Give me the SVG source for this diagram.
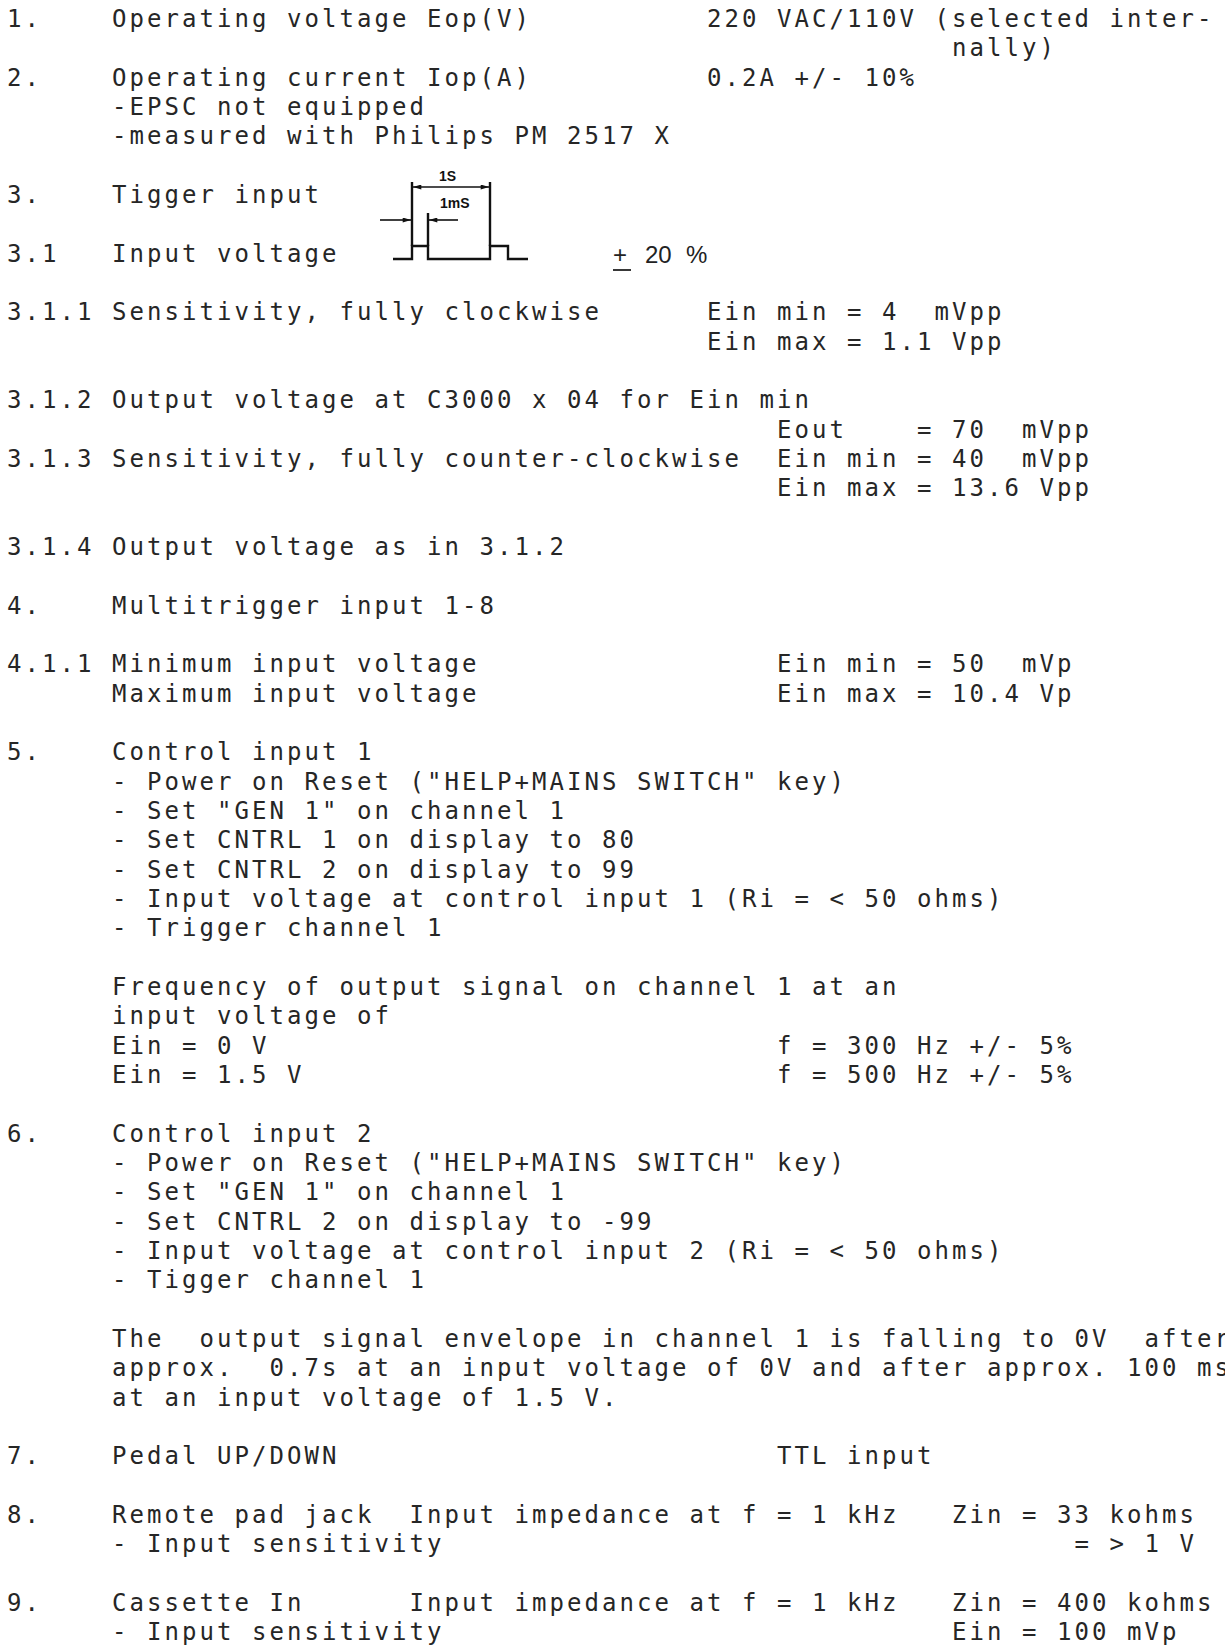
<svg xmlns="http://www.w3.org/2000/svg" width="1225" height="1645" viewBox="0 0 1225 1645">
<defs>
<style>
.t{font-family:"DejaVu Sans Mono","Liberation Mono",monospace;font-size:24px;letter-spacing:3.05px;fill:#262626;white-space:pre}
.s{font-family:"Liberation Sans",Arial,sans-serif;fill:#222}
.lbl{font-family:"Liberation Sans",Arial,sans-serif;font-weight:bold;font-size:14px;fill:#111}
.wave{fill:none;stroke:#111;stroke-width:2.4;stroke-linejoin:miter}
.dim{fill:none;stroke:#111;stroke-width:1.6}
</style>
<marker id="arr" viewBox="0 0 10 6" refX="10" refY="3" markerWidth="9" markerHeight="5" markerUnits="userSpaceOnUse" orient="auto-start-reverse">
<path d="M0,0 L10,3 L0,6 z" fill="#111"/>
</marker>
</defs>
<rect width="1225" height="1645" fill="#fff"/>

<g id="item-1">
<text class="t" x="7" y="27">1.</text>
<text class="t" x="112" y="27">Operating voltage Eop(V)</text>
<text class="t" x="707" y="27">220 VAC/110V (selected inter-</text>
<text class="t" x="952" y="56.3">nally)</text>
</g>

<g id="item-2">
<text class="t" x="7" y="85.7">2.</text>
<text class="t" x="112" y="85.7">Operating current Iop(A)</text>
<text class="t" x="707" y="85.7">0.2A +/- 10%</text>
<text class="t" x="112" y="115">-EPSC not equipped</text>
<text class="t" x="112" y="144.3">-measured with Philips PM 2517 X</text>
</g>

<g id="item-3">
<text class="t" x="7" y="203">3.</text>
<text class="t" x="112" y="203">Tigger input</text>
<text class="t" x="7" y="261.6">3.1</text>
<text class="t" x="112" y="261.6">Input voltage</text>
<text class="s" x="613" y="263" font-size="24">+</text>
<line x1="613" y1="270" x2="631" y2="270" stroke="#222" stroke-width="1.8"/>
<text class="s" x="645" y="263" font-size="24">20</text>
<text class="s" x="686" y="263" font-size="24">%</text>
</g>

<g id="trigger-waveform">
<path class="wave" d="M393,259 H412 V246 H428 V259 H490 V246 H508 V259 H528"/>
<path class="wave" d="M412,182 V246 M428,213 V246 M490,182 V246"/>
<text class="lbl" x="439" y="181">1S</text>
<text class="lbl" x="440" y="208">1mS</text>
</g>

<g id="connectors">
<path class="dim" d="M413,187 H489" marker-start="url(#arr)" marker-end="url(#arr)"/>
<path class="dim" d="M380,220 H411" marker-end="url(#arr)"/>
<path class="dim" d="M458,220 H429" marker-end="url(#arr)"/>
</g>

<g id="item-3-1">
<text class="t" x="7" y="320.3">3.1.1 Sensitivity, fully clockwise</text>
<text class="t" x="707" y="320.3">Ein min = 4  mVpp</text>
<text class="t" x="707" y="349.6">Ein max = 1.1 Vpp</text>
<text class="t" x="7" y="408.3">3.1.2 Output voltage at C3000 x 04 for Ein min</text>
<text class="t" x="777" y="437.6">Eout    = 70  mVpp</text>
<text class="t" x="7" y="467">3.1.3 Sensitivity, fully counter-clockwise</text>
<text class="t" x="777" y="467">Ein min = 40  mVpp</text>
<text class="t" x="777" y="496.3">Ein max = 13.6 Vpp</text>
<text class="t" x="7" y="555">3.1.4 Output voltage as in 3.1.2</text>
</g>

<g id="item-4">
<text class="t" x="7" y="613.6">4.</text>
<text class="t" x="112" y="613.6">Multitrigger input 1-8</text>
<text class="t" x="7" y="672.3">4.1.1 Minimum input voltage</text>
<text class="t" x="777" y="672.3">Ein min = 50  mVp</text>
<text class="t" x="112" y="701.6">Maximum input voltage</text>
<text class="t" x="777" y="701.6">Ein max = 10.4 Vp</text>
</g>

<g id="item-5">
<text class="t" x="7" y="760.3">5.</text>
<text class="t" x="112" y="760.3">Control input 1</text>
<text class="t" x="112" y="789.6">- Power on Reset ("HELP+MAINS SWITCH" key)</text>
<text class="t" x="112" y="818.9">- Set "GEN 1" on channel 1</text>
<text class="t" x="112" y="848.2">- Set CNTRL 1 on display to 80</text>
<text class="t" x="112" y="877.6">- Set CNTRL 2 on display to 99</text>
<text class="t" x="112" y="906.9">- Input voltage at control input 1 (Ri = &lt; 50 ohms)</text>
<text class="t" x="112" y="936.2">- Trigger channel 1</text>
<text class="t" x="112" y="994.9">Frequency of output signal on channel 1 at an</text>
<text class="t" x="112" y="1024.2">input voltage of</text>
<text class="t" x="112" y="1053.6">Ein = 0 V</text>
<text class="t" x="777" y="1053.6">f = 300 Hz +/- 5%</text>
<text class="t" x="112" y="1082.9">Ein = 1.5 V</text>
<text class="t" x="777" y="1082.9">f = 500 Hz +/- 5%</text>
</g>

<g id="item-6">
<text class="t" x="7" y="1141.5">6.</text>
<text class="t" x="112" y="1141.5">Control input 2</text>
<text class="t" x="112" y="1170.9">- Power on Reset ("HELP+MAINS SWITCH" key)</text>
<text class="t" x="112" y="1200.2">- Set "GEN 1" on channel 1</text>
<text class="t" x="112" y="1229.5">- Set CNTRL 2 on display to -99</text>
<text class="t" x="112" y="1258.9">- Input voltage at control input 2 (Ri = &lt; 50 ohms)</text>
<text class="t" x="112" y="1288.2">- Tigger channel 1</text>
<text class="t" x="112" y="1346.9">The  output signal envelope in channel 1 is falling to 0V  after</text>
<text class="t" x="112" y="1376.2">approx.  0.7s at an input voltage of 0V and after approx. 100 ms</text>
<text class="t" x="112" y="1405.5">at an input voltage of 1.5 V.</text>
</g>

<g id="item-7">
<text class="t" x="7" y="1464.2">7.</text>
<text class="t" x="112" y="1464.2">Pedal UP/DOWN</text>
<text class="t" x="777" y="1464.2">TTL input</text>
</g>

<g id="item-8">
<text class="t" x="7" y="1522.8">8.</text>
<text class="t" x="112" y="1522.8">Remote pad jack</text>
<text class="t" x="409.5" y="1522.8">Input impedance at f = 1 kHz</text>
<text class="t" x="952" y="1522.8">Zin = 33 kohms</text>
<text class="t" x="112" y="1552.2">- Input sensitivity</text>
<text class="t" x="1074.5" y="1552.2">= &gt; 1 V</text>
</g>

<g id="item-9">
<text class="t" x="7" y="1610.8">9.</text>
<text class="t" x="112" y="1610.8">Cassette In</text>
<text class="t" x="409.5" y="1610.8">Input impedance at f = 1 kHz</text>
<text class="t" x="952" y="1610.8">Zin = 400 kohms</text>
<text class="t" x="112" y="1640.2">- Input sensitivity</text>
<text class="t" x="952" y="1640.2">Ein = 100 mVp</text>
</g>
</svg>
